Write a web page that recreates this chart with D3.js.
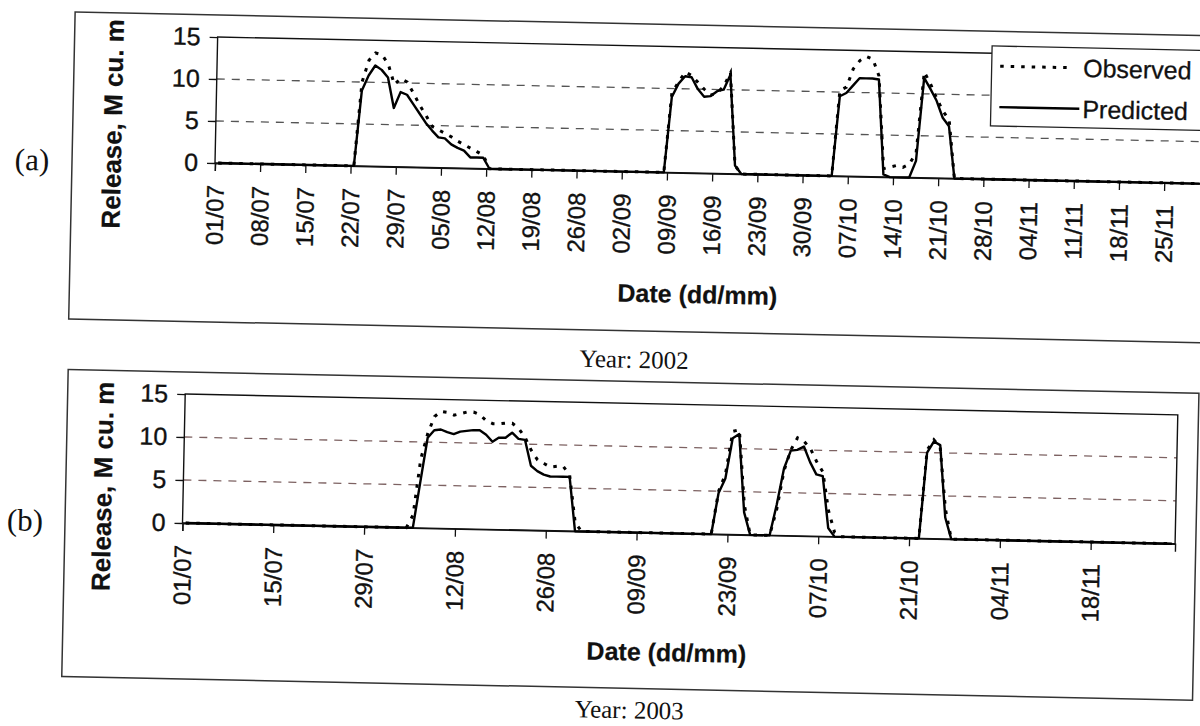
<!DOCTYPE html>
<html>
<head>
<meta charset="utf-8">
<script src="https://cdn.jsdelivr.net/npm/d3@7"></script>
<style>
  body { margin: 0; background: #ffffff; }
  svg { display: block; }
</style>
</head>
<body>
<svg id="fig" width="1200" height="726"></svg>
<script>
// ---- Data: daily reservoir release (M cu. m), breakpoints as [dd/mm, value] ----
const observed2002 = [
  ["01/07",0],["22/07",0],["23/07",10.0],["24/07",12.6],["25/07",13.5],["26/07",13.3],["27/07",12.2],
  ["28/07",9.8],["29/07",10.5],["30/07",10.1],["31/07",8.8],["01/08",7.4],["02/08",6.2],["03/08",4.9],
  ["04/08",4.5],["05/08",4.1],["06/08",3.7],["07/08",3.2],["08/08",2.8],["09/08",2.4],["10/08",2.0],
  ["11/08",1.6],["12/08",0],["08/09",0],["09/09",9.5],["10/09",10.8],["11/09",12.0],["12/09",11.6],
  ["13/09",10.8],["14/09",10.0],["15/09",9.3],["16/09",9.6],["17/09",10.4],["18/09",12.0],["19/09",1.0],
  ["20/09",0],["04/10",0],["05/10",10.2],["06/10",10.6],["07/10",12.8],["08/10",13.8],["09/10",14.3],
  ["10/10",14.0],["11/10",12.0],["12/10",1.0],["13/10",1.2],["14/10",1.4],["15/10",1.2],["16/10",1.6],
  ["17/10",3.0],["18/10",12.6],["19/10",11.2],["20/10",9.5],["21/10",8.0],["22/10",7.0],["23/10",0],
  ["30/11",0]
];
const predicted2002 = [
  ["01/07",0],["22/07",0],["23/07",9.0],["24/07",10.8],["25/07",12.0],["26/07",11.5],["27/07",10.6],
  ["28/07",7.0],["29/07",8.9],["30/07",8.6],["31/07",7.5],["01/08",6.4],["02/08",5.3],["03/08",4.4],
  ["04/08",3.6],["05/08",3.5],["06/08",2.8],["07/08",2.4],["08/08",2.1],["09/08",1.3],["10/08",1.3],
  ["11/08",1.3],["12/08",0],["08/09",0],["09/09",9.0],["10/09",10.6],["11/09",11.5],["12/09",11.4],
  ["13/09",10.0],["14/09",9.1],["15/09",9.2],["16/09",9.8],["17/09",10.0],["18/09",11.8],["19/09",1.0],
  ["20/09",0],["04/10",0],["05/10",9.5],["06/10",9.9],["07/10",10.8],["08/10",11.7],["09/10",11.7],
  ["10/10",11.7],["11/10",11.6],["12/10",0.3],["13/10",0],["16/10",0],["17/10",2.0],["18/10",11.9],
  ["19/10",10.6],["20/10",9.2],["21/10",7.2],["22/10",6.2],["23/10",0],["30/11",0]
];
const observed2003 = [
  ["01/07",0],["04/08",0],["05/08",1.5],["06/08",8.0],["07/08",11.0],["08/08",13.0],["09/08",13.6],
  ["10/08",13.5],["11/08",13.2],["12/08",13.4],["13/08",13.6],["14/08",13.6],["15/08",13.3],["16/08",12.6],
  ["17/08",12.3],["18/08",12.3],["19/08",12.4],["20/08",12.4],["21/08",11.8],["22/08",10.8],["23/08",9.3],
  ["24/08",8.2],["25/08",7.8],["26/08",7.4],["27/08",7.5],["28/08",7.5],["29/08",6.5],["30/08",1.0],
  ["31/08",0],["20/09",0],["21/09",5.0],["22/09",7.0],["23/09",12.0],["24/09",12.2],["25/09",3.5],
  ["26/09",0],["29/09",0],["30/09",3.0],["01/10",7.5],["02/10",10.0],["03/10",11.4],["04/10",11.0],
  ["05/10",10.2],["06/10",8.7],["07/10",7.5],["08/10",3.0],["09/10",0.5],["10/10",0],["22/10",0],
  ["23/10",10.3],["24/10",11.5],["25/10",10.6],["26/10",3.5],["27/10",0],["30/11",0]
];
const predicted2003 = [
  ["01/07",0],["05/08",0],["06/08",5.3],["07/08",10.5],["08/08",11.4],["09/08",11.5],["10/08",11.2],
  ["11/08",11.0],["12/08",11.3],["13/08",11.4],["14/08",11.5],["15/08",11.5],["16/08",11.0],["17/08",10.2],
  ["18/08",10.7],["19/08",10.7],["20/08",11.3],["21/08",10.6],["22/08",10.5],["23/08",7.5],["24/08",6.9],
  ["25/08",6.5],["26/08",6.3],["27/08",6.3],["28/08",6.3],["29/08",6.3],["30/08",0],["20/09",0],
  ["21/09",4.8],["22/09",6.5],["23/09",11.2],["24/09",11.7],["25/09",2.6],["26/09",0],["29/09",0],
  ["30/09",3.6],["01/10",7.8],["02/10",9.9],["03/10",10.0],["04/10",10.4],["05/10",8.6],["06/10",7.2],
  ["07/10",7.0],["08/10",1.0],["09/10",0],["22/10",0],["23/10",10.0],["24/10",11.3],["25/10",10.9],
  ["26/10",2.5],["27/10",0],["30/11",0]
];

// ---- Axis tick labels ----
const ticks2002 = ["01/07","08/07","15/07","22/07","29/07","05/08","12/08","19/08","26/08","02/09","09/09",
  "16/09","23/09","30/09","07/10","14/10","21/10","28/10","04/11","11/11","18/11","25/11"];
const ticks2003 = ["01/07","15/07","29/07","12/08","26/08","09/09","23/09","07/10","21/10","04/11","18/11"];
const yTicks = [0, 5, 10, 15];
const seriesNames = ["Observed", "Predicted"];

// ---- Layout of the two panels (the printed page sits at a slight tilt) ----
const TILT = 1.2;
const panels = [
  { tag: "(a)", year: 2002, obs: observed2002, pred: predicted2002, ticks: ticks2002,
    pivot: [215, 163], x0: 215, x1: 1203.2, yTop: 37, yZero: 163,
    box: [72, 15, 1170, 307], tagPos: [32, 174], yTitle: [121, 126],
    xTitle: [700, 293], yearPos: [638, 359], gridColor: "#555", legend: true },
  { tag: "(b)", year: 2003, obs: observed2003, pred: predicted2003, ticks: ticks2003,
    pivot: [182.5, 523], x0: 182.5, x1: 1175.3, yTop: 394, yZero: 523,
    box: [65, 372, 1131, 307], tagPos: [25, 534], yTitle: [111, 488],
    xTitle: [669, 651], yearPos: [633, 709], gridColor: "#7d6262", legend: false }
];

const SANS = "'Liberation Sans', Arial, sans-serif";
const SERIF = "'Liberation Serif', 'Times New Roman', serif";
const INK = "#111";
const svg = d3.select("#fig");

// printed text is slightly heavier than the plain regular face
function ink(sel, weight) {
  return sel.attr("fill", INK).attr("stroke", INK).attr("stroke-width", weight);
}

function drawPanel(p) {
  const parse = d3.timeParse("%d/%m/%Y");
  const toDate = s => parse(s + "/" + p.year);
  const start = toDate("01/07"), end = toDate("01/12");

  const x = d3.scaleTime().domain([start, end]).range([p.x0, p.x1]);
  const y = d3.scaleLinear().domain([0, 15]).range([p.yZero, p.yTop]);
  // each day's value sits in the middle of its day slot
  const xPos = s => x(d3.timeHour.offset(toDate(s), 12));

  const g = svg.append("g")
    .attr("transform", `rotate(${TILT},${p.pivot[0]},${p.pivot[1]})`);

  // outer chart frame
  g.append("rect")
    .attr("x", p.box[0]).attr("y", p.box[1])
    .attr("width", p.box[2]).attr("height", p.box[3])
    .attr("fill", "none").attr("stroke", "#333").attr("stroke-width", 1.5);

  // dashed gridlines at 5 and 10
  g.selectAll("line.grid").data([5, 10]).join("line")
    .attr("class", "grid")
    .attr("x1", p.x0).attr("x2", p.x1)
    .attr("y1", d => y(d)).attr("y2", d => y(d))
    .attr("stroke", p.gridColor).attr("stroke-width", 1.3)
    .attr("stroke-dasharray", "8 7");

  // plot-area border
  g.append("rect")
    .attr("x", p.x0).attr("y", p.yTop)
    .attr("width", p.x1 - p.x0).attr("height", p.yZero - p.yTop)
    .attr("fill", "none").attr("stroke", INK).attr("stroke-width", 1.4);

  // y axis
  const yAxis = g.append("g")
    .attr("transform", `translate(${p.x0},0)`)
    .call(d3.axisLeft(y).tickValues(yTicks).tickSize(8).tickPadding(9));
  yAxis.select(".domain").remove();
  yAxis.selectAll("line").attr("stroke", INK).attr("stroke-width", 1.3);
  ink(yAxis.selectAll("text").attr("font-family", SANS).attr("font-size", 25), 0.35);

  // x axis
  const tickDates = p.ticks.map(toDate);
  const xAxis = g.append("g")
    .attr("transform", `translate(0,${p.yZero})`)
    .call(d3.axisBottom(x).tickValues(tickDates).tickFormat(d3.timeFormat("%d/%m")).tickSize(8));
  xAxis.select(".domain").attr("stroke", INK).attr("stroke-width", 1.4);
  xAxis.selectAll("line").attr("stroke", INK).attr("stroke-width", 1.3);
  ink(xAxis.selectAll("text")
    .attr("font-family", SANS).attr("font-size", 24)
    .attr("transform", "rotate(-90)")
    .attr("x", -22).attr("y", 0).attr("dy", "0.36em")
    .attr("text-anchor", "end"), 0.35);

  // series lines
  const line = d3.line().x(d => xPos(d[0])).y(d => y(d[1]));
  g.append("path").datum(p.pred).attr("d", line)
    .attr("fill", "none").attr("stroke", "#000").attr("stroke-width", 2.4)
    .attr("stroke-linejoin", "round");
  g.append("path").datum(p.obs).attr("d", line)
    .attr("fill", "none").attr("stroke", "#000").attr("stroke-width", 3)
    .attr("stroke-dasharray", "3.5 7");

  // axis titles
  ink(g.append("text")
    .attr("transform", `translate(${p.yTitle[0]},${p.yTitle[1]}) rotate(-90)`)
    .attr("text-anchor", "middle")
    .attr("font-family", SANS).attr("font-weight", "bold").attr("font-size", 26)
    .text("Release, M cu. m"), 0.2);
  ink(g.append("text")
    .attr("x", p.xTitle[0]).attr("y", p.xTitle[1])
    .attr("text-anchor", "middle")
    .attr("font-family", SANS).attr("font-weight", "bold").attr("font-size", 25)
    .text("Date (dd/mm)"), 0.2);

  // panel tag and year caption
  g.append("text")
    .attr("x", p.tagPos[0]).attr("y", p.tagPos[1])
    .attr("text-anchor", "middle")
    .attr("font-family", SERIF).attr("font-size", 31).attr("fill", INK)
    .text(p.tag);
  g.append("text")
    .attr("x", p.yearPos[0]).attr("y", p.yearPos[1])
    .attr("text-anchor", "middle")
    .attr("font-family", SERIF).attr("font-size", 25).attr("fill", INK)
    .text("Year: " + p.year);

  if (p.legend) {
    const lg = g.append("g");
    lg.append("rect")
      .attr("x", 989.5).attr("y", 29.7).attr("width", 260).attr("height", 80)
      .attr("fill", "#fff").attr("stroke", "#222").attr("stroke-width", 1.3);
    const rows = [
      { name: seriesNames[0], ly: 49.8, lx1: 1065, ty: 58.8, dash: "3.5 7", w: 3 },
      { name: seriesNames[1], ly: 90.7, lx1: 1078, ty: 99.8, dash: null, w: 2.4 }
    ];
    rows.forEach(r => {
      lg.append("line")
        .attr("x1", 998).attr("x2", r.lx1).attr("y1", r.ly).attr("y2", r.ly)
        .attr("stroke", "#000").attr("stroke-width", r.w)
        .attr("stroke-dasharray", r.dash);
      ink(lg.append("text")
        .attr("x", 1081).attr("y", r.ty)
        .attr("font-family", SANS).attr("font-size", 25)
        .text(r.name), 0.3);
    });
  }
}

panels.forEach(drawPanel);
</script>
</body>
</html>
